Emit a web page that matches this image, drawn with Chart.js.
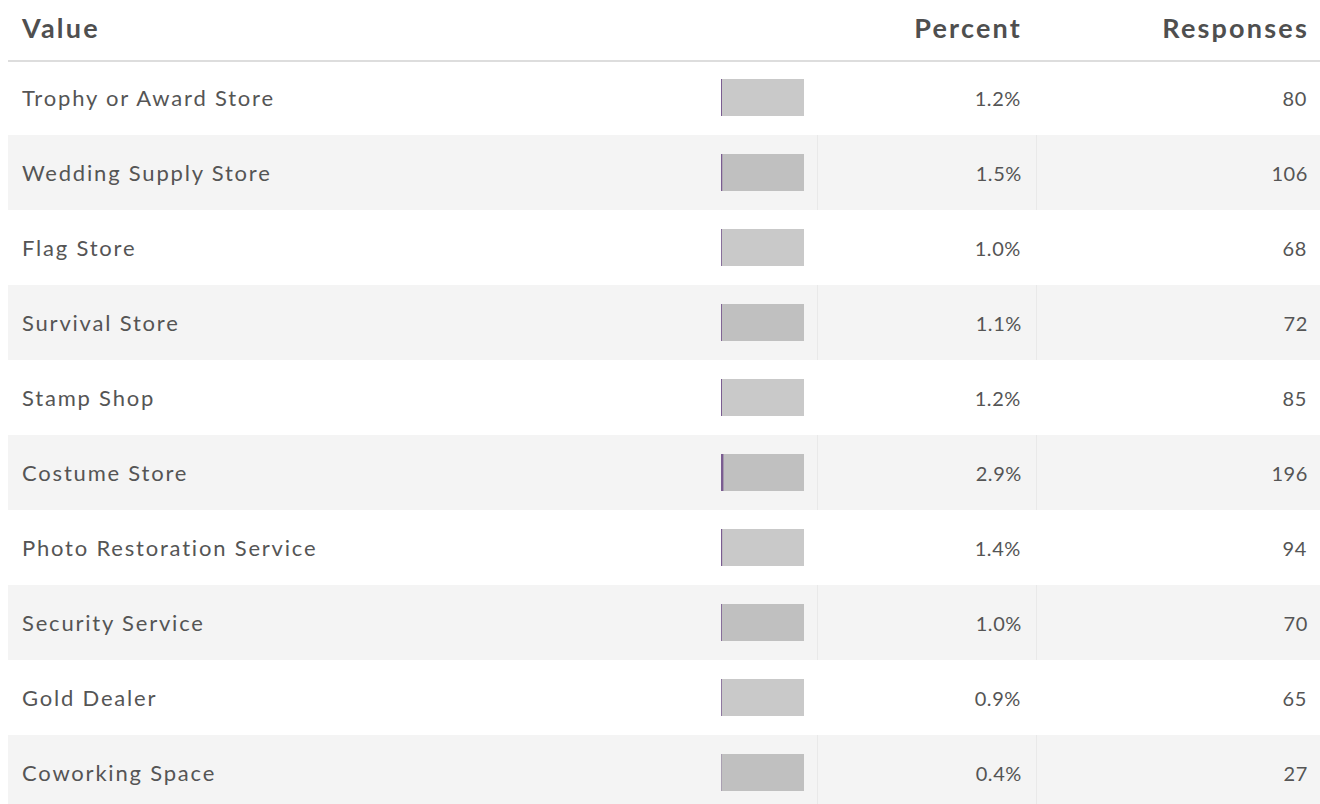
<!DOCTYPE html>
<html>
<head>
<meta charset="utf-8">
<script src="https://cdn.jsdelivr.net/npm/chart.js@4"></script>
<style>
  html, body { margin: 0; padding: 0; background: #fff; overflow: hidden; }
  body { width: 1320px; height: 804px; position: relative; font-family: Lato, "Open Sans", sans-serif; color: #555; }
  .head { position: absolute; left: 8px; right: 0; top: 0; height: 62px; border-bottom: 2px solid #dddddd; box-sizing: border-box; }
  .head div, .row div { position: absolute; top: 0; bottom: 0; display: flex; align-items: center; white-space: nowrap; }
  .head div { font-weight: 700; font-size: 27px; letter-spacing: 2.2px; color: #4f4f4f; padding-bottom: 6px; }
  .row { position: absolute; left: 8px; right: 0; height: 75px; font-size: 22px; }
  .row.alt { background: #f4f4f4; }
  .row.alt .pct, .row.alt .cnt { border-left: 1px solid #e9e9e9; }
  .label { left: 14px; letter-spacing: 1.8px; }
  .pct, .cnt { font-size: 20px; letter-spacing: 0.6px; justify-content: flex-end; }
  .pct { left: 809px; width: 204px; }
  .cnt { left: 1028px; width: 271px; }
  #barBox { position: absolute; left: 721px; top: 60px; width: 83px; height: 750px; }
</style>
</head>
<body>
<div class="head">
  <div style="left:14px">Value</div>
  <div style="right:298px">Percent</div>
  <div style="right:11px">Responses</div>
</div>
<div id="rows"></div>
<div id="barBox"><canvas id="bars"></canvas></div>
<script>
const categories = [
  "Trophy or Award Store",
  "Wedding Supply Store",
  "Flag Store",
  "Survival Store",
  "Stamp Shop",
  "Costume Store",
  "Photo Restoration Service",
  "Security Service",
  "Gold Dealer",
  "Coworking Space",
];
const percents = [1.2, 1.5, 1.0, 1.1, 1.2, 2.9, 1.4, 1.0, 0.9, 0.4];
const responses = [80, 106, 68, 72, 85, 196, 94, 70, 65, 27];

// table text
const rowsEl = document.getElementById("rows");
categories.forEach((name, i) => {
  const row = document.createElement("div");
  row.className = "row" + (i % 2 === 1 ? " alt" : "");
  row.style.top = (60 + i * 75) + "px";
  row.innerHTML =
    '<div class="label"></div><div class="pct"></div><div class="cnt"></div>';
  row.querySelector(".label").textContent = name;
  row.querySelector(".pct").textContent = percents[i].toFixed(1) + "%";
  row.querySelector(".cnt").textContent = responses[i];
  rowsEl.appendChild(row);
});

// bar column: grey track with purple fill of the percent
new Chart(document.getElementById("bars"), {
  type: "bar",
  data: {
    labels: categories,
    datasets: [
      {
        data: percents,
        backgroundColor: "#7a5c91",
        barThickness: 37,
        inflateAmount: 0,
        grouped: false,
        order: 0,
      },
      {
        data: categories.map(() => 100),
        backgroundColor: "rgba(0,0,0,0.21)",
        barThickness: 37,
        inflateAmount: 0,
        grouped: false,
        order: 1,
      },
    ],
  },
  options: {
    indexAxis: "y",
    responsive: true,
    maintainAspectRatio: false,
    animation: false,
    layout: { padding: 0 },
    plugins: { legend: { display: false }, tooltip: { enabled: false } },
    scales: {
      x: { display: false, min: 0, max: 100 },
      y: { display: false },
    },
  },
});
</script>
</body>
</html>
